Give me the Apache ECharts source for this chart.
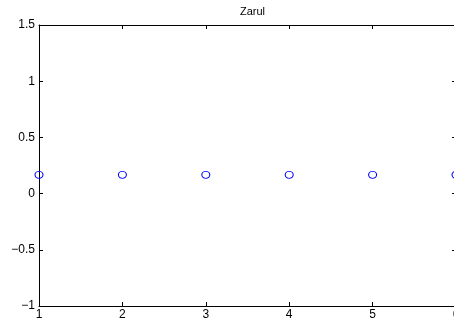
<!DOCTYPE html>
<html><head><meta charset="utf-8">
<script src="https://cdn.jsdelivr.net/npm/echarts@6/dist/echarts.min.js"></script>
<style>html,body{margin:0;padding:0;overflow:hidden;background:#fff;width:454px;height:322px}#c{width:454px;height:322px}</style>
</head><body><div id="c"></div>
<script>
const titleText = "Zarul";
const xValues = [1, 2, 3, 4, 5, 6];
const yValues = [0.1667, 0.1667, 0.1667, 0.1667, 0.1667, 0.1667];
const yTicks = [-1, -0.5, 0, 0.5, 1, 1.5];

const chart = echarts.init(document.getElementById('c'), null, {renderer: 'canvas'});
const font = 'Liberation Sans, Arial, Helvetica, sans-serif';
const fmtY = v => String(v).replace('-', '\u2212');
const axisLine = {show: true, onZero: false, lineStyle: {color: '#000', width: 1}};
const tick = {show: true, inside: true, length: 4, lineStyle: {color: '#000'}};
chart.setOption({
  animation: false,
  backgroundColor: '#fff',
  title: {text: titleText, left: 247.5, textAlign: 'center', top: 1,
    textStyle: {fontFamily: font, fontSize: 11, fontWeight: 'normal', color: '#000'}},
  grid: {left: 39, right: -2, top: 25, bottom: 16, outerBoundsMode: 'none', containLabel: false},
  xAxis: [
    {type: 'value', min: xValues[0], max: xValues[xValues.length-1], interval: 1, position: 'bottom',
     axisLine, axisTick: tick, splitLine: {show: false},
     axisLabel: {fontFamily: font, fontSize: 12, color: '#000', margin: 3}},
    {type: 'value', min: xValues[0], max: xValues[xValues.length-1], interval: 1, position: 'top',
     axisLine, axisTick: tick, splitLine: {show: false}, axisLabel: {show: false}}
  ],
  yAxis: [
    {type: 'value', min: yTicks[0], max: yTicks[yTicks.length-1], interval: 0.5, position: 'left',
     axisLine, axisTick: tick, splitLine: {show: false},
     axisLabel: {fontFamily: font, fontSize: 12, color: '#000', margin: 4, formatter: fmtY}},
    {type: 'value', min: yTicks[0], max: yTicks[yTicks.length-1], interval: 0.5, position: 'right',
     axisLine, axisTick: tick, splitLine: {show: false}, axisLabel: {show: false}}
  ],
  series: [{
    type: 'scatter', xAxisIndex: 0, yAxisIndex: 0,
    data: xValues.map((x, i) => [x, yValues[i]]),
    symbol: 'circle', symbolSize: [8, 7],
    itemStyle: {color: 'rgba(0,0,0,0)', borderColor: '#0000ff', borderWidth: 1, opacity: 1}
  }]
});
</script></body></html>
